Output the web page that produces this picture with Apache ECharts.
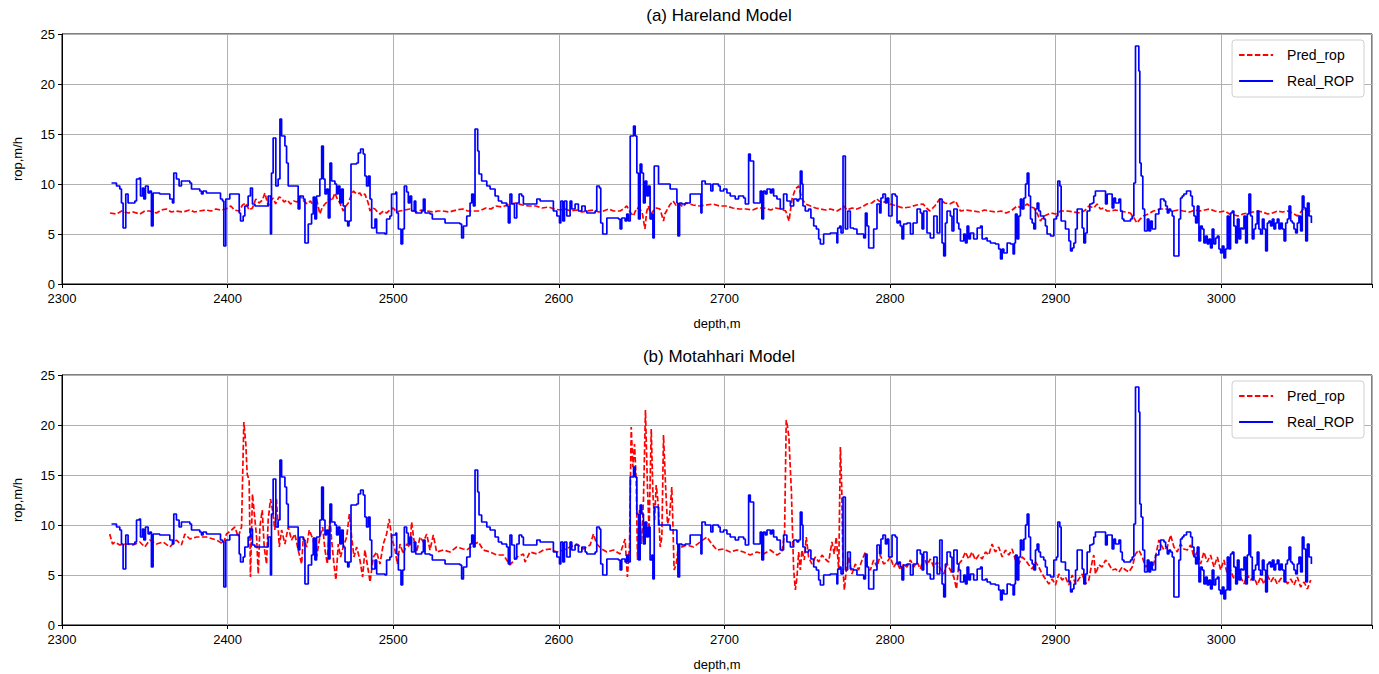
<!DOCTYPE html>
<html>
<head>
<meta charset="utf-8">
<script src="https://cdn.jsdelivr.net/npm/echarts@6/dist/echarts.min.js"></script>
<style>
  html, body { margin: 0; background: #fff; }
  #chart { width: 1379px; height: 674px; }
</style>
</head>
<body>
<div id="chart"></div>
<script>
// depth (m), rop (m/h)
const realRop = [
  [2329.9,10.1],[2332.9,9.8],[2334.9,9.5],[2335.9,8.1],[2336.9,5.6],[2338.5,9.0],[2339.9,8.1],[2344.0,8.3],
  [2345.0,10.5],[2346.6,10.6],[2347.4,8.8],[2348.6,9.6],[2349.4,8.5],[2350.4,9.8],[2352.0,9.1],[2353.0,9.3],
  [2354.0,5.8],[2355.0,9.1],[2359.0,9.0],[2365.1,8.5],[2366.7,8.1],[2367.5,11.1],[2369.1,10.5],[2370.7,9.8],
  [2372.1,10.3],[2377.2,10.1],[2378.2,9.5],[2383.2,9.3],[2384.2,9.0],[2385.2,9.3],[2387.2,9.1],[2394.3,9.1],
  [2395.7,8.5],[2396.9,8.3],[2397.7,3.8],[2398.9,8.5],[2401.3,9.0],[2407.0,7.1],[2407.8,6.3],[2409.4,6.8],
  [2410.4,7.8],[2412.4,8.8],[2413.8,9.6],[2415.0,8.0],[2416.5,7.8],[2424.5,8.8],[2425.9,5.0],[2426.5,11.1],
  [2427.5,14.6],[2429.1,9.8],[2430.5,10.5],[2431.6,16.5],[2432.6,14.8],[2434.6,13.8],[2435.6,12.1],[2436.6,9.8],
  [2442.6,7.5],[2443.6,8.8],[2445.7,8.5],[2446.7,4.1],[2448.7,6.0],[2450.7,7.0],
  [2451.7,8.7],[2452.7,6.5],[2453.7,8.8],[2455.7,10.5],[2456.8,13.8],[2457.8,10.5],[2458.8,9.0],[2459.8,9.5],
  [2460.8,6.6],[2461.8,12.1],[2462.8,10.3],[2464.8,10.0],[2465.8,9.0],[2466.8,9.8],[2467.8,8.1],[2468.8,9.5],
  [2469.8,7.8],[2470.9,6.3],[2472.5,5.8],[2473.3,6.3],[2474.5,12.0],[2477.9,12.1],[2478.9,13.1],[2480.3,13.5],
  [2481.9,13.0],[2482.9,10.8],[2483.9,9.8],[2485.0,10.8],[2486.0,8.5],[2487.0,5.6],[2489.0,6.5],[2490.0,5.1],
  [2495.0,5.0],[2496.0,6.5],[2498.0,6.8],[2499.0,9.0],[2501.5,9.2],[2502.1,7.1],[2503.1,5.5],[2504.7,4.0],
  [2505.7,5.5],[2506.7,9.8],[2508.1,9.2],[2509.1,8.1],[2510.1,8.8],[2511.1,7.3],[2512.7,8.3],[2513.6,7.1],
  [2517.2,7.3],[2518.2,8.5],[2519.2,7.1],[2522.2,7.0],[2523.6,6.5],[2531.3,6.1],[2540.3,6.0],[2541.3,4.6],
  [2542.4,5.8],[2544.4,6.8],[2546.4,8.1],[2547.4,9.0],[2548.4,7.8],[2549.4,15.5],[2551.0,13.3],[2551.8,11.0],
  [2553.4,10.3],[2556.5,9.8],[2558.5,9.5],[2561.5,8.8],[2563.5,8.3],[2565.5,8.1],[2568.5,7.8],[2569.5,6.1],
  [2570.5,9.0],[2571.6,8.0],[2573.2,6.6],[2574.6,8.1],[2576.0,9.0],[2577.6,8.8],
  [2578.6,8.0],[2586.7,8.5],[2588.7,8.3],[2596.7,7.3],[2598.8,6.8],[2600.4,6.1],[2601.2,8.3],[2602.4,6.3],
  [2603.4,8.3],[2604.8,6.8],[2606.8,8.3],[2607.8,7.5],[2609.8,8.0],[2611.8,7.3],[2613.9,7.8],[2615.9,7.3],
  [2616.9,7.1],[2621.9,7.3],[2622.9,9.8],[2624.5,9.6],[2625.3,6.1],[2626.5,5.0],[2629.0,6.6],[2636.0,6.5],
  [2637.0,5.5],[2638.0,6.6],[2640.0,6.3],[2641.0,7.0],[2642.0,6.3],[2643.1,14.8],[2645.1,15.8],[2646.1,14.8],
  [2647.1,11.1],[2648.1,6.5],[2649.1,12.0],[2650.1,11.1],[2651.1,8.1],[2652.1,10.3],[2653.1,8.8],[2654.1,9.8],
  [2655.1,6.5],[2656.2,7.0],[2656.8,4.6],[2657.6,11.8],[2660.2,10.0],[2667.2,9.5],[2671.3,8.1],[2671.9,4.8],
  [2672.9,8.1],[2674.3,8.0],[2676.3,8.1],[2679.3,9.0],[2685.8,7.1],[2686.4,10.3],[2688.4,10.0],[2691.8,9.3],
  [2693.0,10.0],[2696.4,9.8],[2697.4,9.3],[2699.5,9.5],[2701.5,9.1],[2703.5,8.8],
  [2704.5,8.8],[2706.5,8.5],[2708.5,8.8],[2711.6,8.6],[2712.6,8.0],[2714.6,13.0],[2715.6,12.3],[2717.6,8.1],
  [2721.6,9.3],[2722.6,6.5],[2723.6,9.3],[2724.7,9.0],[2725.7,9.5],[2727.7,9.1],[2728.7,9.5],[2729.7,8.8],
  [2731.7,8.5],[2733.7,7.5],[2735.7,9.0],[2737.7,8.3],[2739.8,7.8],[2741.8,8.5],[2743.8,8.3],[2744.8,8.5],
  [2745.8,11.3],[2746.8,10.0],[2747.4,7.8],[2748.8,7.3],[2750.8,7.5],[2752.2,6.6],[2753.9,5.8],[2755.5,5.5],
  [2756.9,4.5],[2757.9,4.0],[2759.9,5.0],[2763.9,5.1],[2767.9,4.1],[2768.4,5.6],[2769.6,5.8],[2770.4,5.1],
  [2771.6,12.8],[2773.0,5.5],[2774.4,7.3],[2776.0,5.6],[2778.0,5.5],[2780.0,5.0],[2784.1,4.6],[2785.1,7.1],
  [2786.1,5.8],[2787.1,3.6],[2790.1,5.5],[2792.1,8.0],[2793.7,7.1],[2794.5,8.6],[2795.7,9.0],[2797.2,8.1],
  [2798.2,8.6],[2799.2,6.8],[2801.2,9.0],[2803.2,8.8],[2804.2,6.1],[2805.2,6.3],[2806.2,5.8],[2807.2,4.5],
  [2808.2,6.0],[2810.2,6.1],[2812.3,5.0],[2813.9,6.1],[2816.3,7.5],[2818.3,7.1],[2819.3,5.5],[2820.3,7.3],
  [2822.3,5.1],[2824.3,4.6],[2826.4,6.8],[2828.4,5.1],[2830.0,8.5],[2831.4,4.1],[2832.4,2.8],[2833.4,6.1],
  [2834.4,7.3],[2836.4,6.8],[2837.4,5.3],[2838.5,7.5],[2840.5,6.1],[2841.5,5.5],[2842.5,4.3],[2844.5,5.0],
  [2845.5,4.1],[2846.5,5.8],[2847.5,4.5],[2848.5,5.1],[2850.5,4.5],[2852.6,5.6],[2854.6,5.8],[2855.6,4.5],
  [2857.6,4.6],[2858.6,4.3],[2860.6,4.1],[2863.6,4.0],[2865.6,3.5],[2866.7,2.5],[2867.7,3.5],[2868.7,3.1],
  [2870.7,4.1],[2872.7,4.0],[2874.3,3.0],[2875.1,4.1],[2875.7,7.0],[2876.7,4.5],[2877.7,6.8],[2878.7,8.5],
  [2879.7,7.5],[2880.8,8.6],[2881.8,10.0],[2882.8,11.1],[2883.8,8.8],[2884.8,6.5],[2885.8,6.1],[2886.8,5.5],
  [2887.8,7.5],[2888.8,8.1],[2889.8,7.3],[2890.8,6.8],[2892.8,6.5],[2893.8,5.8],[2894.8,5.0],[2896.9,4.8],
  [2898.9,6.5],[2900.5,6.8],[2901.3,10.3],[2902.5,9.8],[2903.3,6.3],[2905.9,5.5],[2908.0,4.3],[2909.0,3.3],
  [2910.0,3.6],[2911.0,4.1],[2912.0,5.5],[2913.0,7.5],[2916.0,5.6],[2917.0,4.1],[2918.0,5.1],[2919.0,7.3],
  [2920.6,8.0],[2922.0,8.1],[2923.0,8.8],[2924.0,9.3],[2930.1,8.0],[2931.1,9.0],[2934.1,7.6],[2935.1,8.6],
  [2936.1,8.1],[2938.2,8.5],[2939.2,7.3],[2940.2,6.5],[2941.2,6.3],[2945.2,6.5],[2946.2,6.8],[2947.2,10.1],
  [2948.2,23.8],[2950.2,21.3],[2950.8,12.1],[2951.6,10.8],[2952.6,7.5],[2953.7,5.3],[2955.3,6.5],[2956.3,5.3],
  [2957.3,6.3],[2958.3,5.5],[2960.3,7.0],[2962.3,7.5],[2963.3,8.5],[2965.4,8.3],[2966.4,7.8],[2967.4,7.1],
  [2968.4,7.5],[2969.4,7.3],[2970.4,6.8],[2971.4,2.8],[2974.4,6.5],[2975.4,8.6],[2976.4,8.8],[2977.4,9.0],
  [2979.0,9.3],[2981.5,8.8],[2982.5,7.8],[2983.5,6.8],[2984.5,6.1],[2985.5,7.8],[2986.5,4.3],[2987.5,5.8],
  [2988.5,5.5],[2989.5,4.1],[2990.5,4.8],[2991.5,4.0],[2992.5,4.5],[2993.5,3.6],[2994.5,5.5],[2995.5,4.0],
  [2996.6,4.6],[2997.6,4.8],[2998.6,3.5],[2999.6,3.1],[3000.6,3.8],[3001.6,2.6],[3002.6,3.5],[3003.6,6.8],
  [3004.6,3.5],[3005.6,7.1],[3006.6,7.3],[3007.6,5.8],[3008.7,4.1],[3009.7,6.5],[3010.7,4.5],[3011.7,5.6],
  [3012.7,5.5],[3013.7,6.8],[3014.7,4.1],[3015.7,7.0],[3016.7,9.0],[3017.7,6.8],[3018.7,4.5],[3019.7,5.5],
  [3020.7,6.0],[3021.7,7.3],[3022.7,5.5],[3023.7,5.0],[3024.8,6.5],[3025.8,5.5],[3026.8,3.3],[3027.8,6.1],
  [3028.8,6.3],[3029.8,5.8],[3030.8,6.5],[3031.8,5.5],[3032.8,6.1],[3033.8,6.5],[3034.8,5.5],[3035.8,6.1],
  [3036.8,5.5],[3037.9,4.3],[3038.9,6.1],[3039.9,6.5],[3040.9,7.8],[3041.9,6.3],[3042.9,6.1],[3043.9,5.5],
  [3044.9,5.1],[3045.9,6.1],[3046.9,6.8],[3047.9,5.3],[3048.9,8.8],[3049.9,7.6],[3051.0,4.3],[3052.0,8.1],
  [3053.0,6.8],[3054.4,6.1]
];

const harelandPred = [
  [2329,7.1],[2333,7.0],[2336,7.3],[2340,7.1],[2343,7.2],[2347,7.0],[2350,7.3],[2353,7.3],[2357,7.1],[2360,7.4],
  [2363,7.5],[2366,7.2],[2369,7.3],[2373,7.2],[2377,7.4],[2380,7.2],[2383,7.3],[2387,7.4],[2390,7.3],[2393,7.5],
  [2396,7.4],[2399,7.5],[2402,7.8],[2404,7.4],[2407,7.3],[2409,7.9],[2411,8.1],[2413,7.4],[2415,7.6],[2417,8.5],
  [2419,8.1],[2421,8.4],[2422.5,9.1],[2424.5,7.8],[2426,8.3],[2427.5,8.6],[2429,8.0],[2431,8.7],[2432.6,8.6],
  [2434,8.2],[2436,8.4],[2438,8.0],[2440,8.3],[2442,8.2],[2443.6,8.8],[2446,8.3],[2448,8.0],[2450,8.3],[2452,7.8],
  [2453.7,8.5],[2455.7,7.0],[2457,7.6],[2458.8,8.0],[2460,8.2],[2461.8,8.6],[2463,8.3],[2464.8,9.1],[2466,8.6],
  [2467.8,8.1],[2469.8,7.3],[2471,7.7],[2472.9,8.1],[2474,8.6],[2475.9,9.3],[2478,9.0],[2479.9,9.1],[2481,8.8],
  [2482.9,9.0],[2484.9,8.1],[2486,7.3],[2487.5,7.6],[2489,7.5],[2490.5,7.2],[2492,7.0],[2494,7.3],[2496,7.1],
  [2498,7.4],[2500,7.6],[2502,7.2],[2504,7.3],[2507,7.4],[2510,7.5],[2514,7.2],[2517,7.4],[2520,7.3],[2524,7.2],
  [2527,7.3],[2530,7.3],[2534,7.2],[2538,7.4],[2542,7.5],[2545,7.3],[2548,7.3],[2552,7.3],[2556,7.6],[2559,7.5],
  [2562,7.8],[2566,7.7],[2570,8.0],[2574,8.1],[2578,7.9],[2582,7.8],[2586,7.8],[2590,7.6],[2594,7.7],[2597,7.5],
  [2601,7.4],[2604,7.5],[2607,7.3],[2611,7.4],[2614,7.2],[2617,7.3],[2621,7.4],[2624,7.2],[2627,7.3],[2630,7.5],
  [2633,7.3],[2637,7.3],[2639,7.5],[2641,7.8],[2643,7.2],[2645,6.8],[2647,7.6],[2649,7.5],[2650.5,7.0],[2652,5.5],
  [2653,7.2],[2654,7.8],[2655.5,7.0],[2657,7.3],[2659,7.6],[2661,7.5],[2662,7.0],[2663.2,6.3],[2664,7.0],[2665,7.3],
  [2667,7.9],[2669,8.3],[2671,7.8],[2673,8.0],[2675,7.7],[2677,8.1],[2681,7.9],[2685,7.8],[2689,7.9],[2693,8.0],
  [2697,7.8],[2701,7.8],[2705,7.6],[2709,7.5],[2713,7.5],[2717,7.4],[2720,7.6],[2724,7.6],[2728,7.4],[2731,7.6],
  [2734,7.5],[2737,7.3],[2739,6.3],[2740.8,8.5],[2742.8,9.5],[2744.8,9.8],[2746.8,8.5],[2749,8.0],[2752,7.8],
  [2755,7.6],[2758,7.5],[2761,7.4],[2764,7.5],[2768,7.3],[2770,7.5],[2772,7.8],[2774,7.4],[2777,7.6],[2780,7.5],
  [2783,7.7],[2786,8.0],[2789,8.1],[2792,8.5],[2795,8.1],[2798,8.3],[2800,8.0],[2804,7.8],[2808,7.6],[2812,7.7],
  [2816,7.9],[2820,8.0],[2822,7.6],[2824,7.3],[2827,7.8],[2830,8.5],[2833,8.1],[2836,8.0],[2839.5,8.3],
  [2842.5,7.3],[2846,7.4],[2850,7.3],[2854,7.2],[2857,7.4],[2860,7.3],[2864,7.2],[2867,7.3],[2870,7.1],[2873,7.3],
  [2876.7,7.8],[2879,7.6],[2882.8,8.0],[2885,7.7],[2887,7.6],[2889,7.0],[2890.8,6.3],[2893,6.8],[2897,7.1],
  [2900,7.0],[2903,7.3],[2907,7.3],[2911,7.2],[2915,7.1],[2918,7.4],[2920,7.8],[2923,7.6],[2925,8.0],[2927,7.5],
  [2929,7.6],[2931,7.3],[2933,7.3],[2936,7.4],[2939,7.3],[2942,7.2],[2945,7.1],[2947,6.7],[2949,6.1],[2951,6.5],
  [2953,6.8],[2956,7.0],[2959,7.3],[2963,7.5],[2967,7.5],[2971,7.3],[2974,7.4],[2977,7.3],[2981,7.2],[2984,7.4],
  [2987,7.3],[2990,7.4],[2993,7.5],[2996,7.3],[2999,7.2],[3002,7.3],[3005,7.0],[3008,6.9],[3010,6.8],[3013,7.0],
  [3016,7.1],[3019,7.2],[3022,7.3],[3025,7.2],[3028,7.0],[3031,7.1],[3034,7.3],[3037,7.2],[3040,7.3],[3043,7.1],
  [3046,6.8],[3048,7.2],[3050,7.6],[3052,7.1],[3054,7.3]
];

const motahhariPred = [
  [2328.8,9.1],[2330.5,8.1],[2331.9,8.3],[2334.9,8.0],[2338.9,8.1],[2342.9,8.0],[2347.0,8.3],[2350.0,7.8],
  [2353.0,8.5],[2357.0,8.1],[2361.1,8.3],[2365.1,7.8],[2369.1,8.5],[2372.1,8.0],[2374.2,9.1],[2377.2,8.6],
  [2381.2,8.8],[2387.2,8.8],[2393.3,8.5],[2397.3,8.1],[2399.3,9.1],[2402.4,9.5],[2404.4,9.8],[2406.4,8.8],
  [2408.4,9.8],[2409.8,20.3],[2411.0,18.1],[2411.8,15.1],[2413.0,14.5],[2413.8,4.8],[2415.0,13.1],[2416.5,10.5],
  [2417.5,8.8],[2418.5,5.1],[2419.5,9.8],[2420.9,11.5],[2422.1,7.8],[2423.5,6.1],[2424.5,10.5],[2425.9,12.6],
  [2427.1,11.5],[2428.5,9.5],[2429.5,12.6],[2431.2,7.8],[2432.6,9.5],[2434.6,8.1],[2436.6,9.8],[2438.6,8.5],
  [2440.6,9.1],[2442.6,7.5],[2444.7,6.1],[2445.7,8.8],[2447.7,7.8],[2449.3,9.5],[2451.7,8.5],[2453.7,6.8],
  [2455.7,8.8],[2457.4,9.8],[2458.8,7.5],[2460.2,6.1],[2461.8,10.8],[2462.8,8.5],[2464.2,6.1],[2465.4,4.5],
  [2466.8,8.1],[2468.2,6.8],[2469.8,7.8],[2471.9,8.8],[2473.5,11.1],[2474.9,8.8],[2476.3,6.8],[2477.9,7.8],
  [2479.9,6.5],[2481.5,4.8],[2482.9,7.5],[2484.9,5.5],[2486.0,4.3],[2488.0,6.8],[2490.0,7.3],[2492.0,6.1],
  [2494.0,8.1],[2496.0,9.1],[2497.6,10.6],[2499.0,8.8],[2501.1,7.5],[2502.5,6.1],[2504.1,8.1],[2506.1,7.1],
  [2508.1,8.1],[2510.1,7.8],[2511.1,10.3],[2512.5,8.5],[2514.1,7.3],[2516.2,8.8],[2518.2,8.3],[2520.2,9.1],
  [2522.2,7.5],[2524.2,9.0],[2526.2,7.3],[2530.3,7.5],[2534.3,7.3],[2538.3,7.8],[2542.3,7.6],[2544.4,7.5],
  [2548.4,8.0],[2551.4,8.3],[2554.4,7.5],[2558.5,7.3],[2562.5,7.0],[2566.5,7.0],[2570.5,6.0],[2574.6,6.8],
  [2578.6,7.1],[2579.6,6.3],[2582.6,7.3],[2586.7,7.1],[2590.7,7.5],[2594.7,7.6],[2598.8,7.3],[2602.8,7.5],
  [2606.8,7.8],[2610.8,8.1],[2614.9,7.6],[2618.9,8.0],[2620.9,9.1],[2622.9,8.1],[2625.9,7.6],[2629.0,7.3],
  [2633.0,7.5],[2637.0,7.1],[2640.0,8.6],[2641.4,4.8],[2642.7,8.1],[2643.7,19.8],[2644.7,15.8],[2645.7,18.1],
  [2646.7,14.5],[2647.5,6.5],[2648.7,11.5],[2649.9,8.1],[2651.1,12.5],[2652.3,21.5],[2653.5,13.8],[2654.5,9.5],
  [2655.8,19.6],[2656.8,13.1],[2657.8,10.5],[2658.8,14.0],[2660.0,12.1],[2661.2,7.8],[2662.2,8.8],[2663.2,19.0],
  [2664.4,14.1],[2665.6,10.1],[2666.8,10.8],[2668.2,13.8],[2668.8,10.5],[2669.6,5.5],[2670.9,6.1],[2672.3,8.1],
  [2674.3,7.8],[2677.3,8.0],[2681.3,7.8],[2685.4,8.3],[2689.4,8.8],[2692.4,8.1],[2695.4,7.5],[2699.5,7.6],
  [2703.5,7.3],[2707.5,7.5],[2711.6,7.3],[2715.6,7.0],[2719.6,7.3],[2723.6,7.1],[2727.7,7.5],[2731.7,7.0],
  [2734.7,7.3],[2736.3,9.1],[2737.3,20.5],[2738.1,19.8],[2738.9,18.8],[2739.8,15.5],[2740.4,13.5],[2741.0,9.8],
  [2741.8,5.5],[2742.8,3.5],[2743.8,4.8],[2744.8,7.3],[2745.8,5.5],[2746.8,7.5],[2748.2,6.5],[2749.4,8.8],
  [2750.8,6.8],[2752.8,6.1],[2754.9,6.8],[2756.9,6.3],[2758.9,7.0],[2760.9,6.6],[2762.9,6.3],[2764.9,8.3],
  [2766.3,7.1],[2767.5,8.8],[2769.0,5.5],[2770.0,17.8],[2770.8,13.8],[2771.6,5.5],[2772.4,3.5],[2773.6,5.5],
  [2775.0,6.8],[2777.0,5.1],[2779.0,6.1],[2781.0,5.5],[2783.1,6.5],[2785.1,7.3],[2786.5,5.6],[2788.1,5.5],
  [2790.1,6.5],[2792.1,5.8],[2794.1,7.0],[2796.1,6.1],[2798.2,6.3],[2800.2,6.8],[2802.2,5.8],[2804.2,6.3],
  [2806.2,5.5],[2808.2,6.1],[2810.2,5.8],[2812.3,6.5],[2814.3,5.8],[2816.3,6.3],[2818.3,5.6],[2820.3,6.8],
  [2822.3,6.0],[2824.3,6.6],[2826.4,5.8],[2828.4,6.3],[2830.4,5.6],[2832.4,5.1],[2834.4,6.1],[2836.4,5.5],
  [2838.5,4.8],[2840.1,3.6],[2841.5,6.1],[2843.5,6.5],[2845.5,7.3],[2847.5,6.6],[2849.5,7.3],[2851.5,6.5],
  [2853.6,7.0],[2855.6,6.6],[2857.6,7.3],[2859.6,7.0],[2861.6,8.1],[2863.6,7.3],[2865.6,7.8],[2867.7,6.8],
  [2869.7,7.5],[2871.7,7.0],[2873.7,7.6],[2875.7,6.5],[2877.7,6.1],[2879.7,6.8],[2881.8,6.5],[2883.8,6.0],
  [2885.8,5.6],[2887.8,6.3],[2889.8,5.8],[2891.8,5.1],[2893.8,4.6],[2895.9,4.1],[2897.9,4.6],[2899.9,4.0],
  [2901.9,5.1],[2903.9,4.5],[2905.9,4.8],[2907.9,4.0],[2910.0,5.0],[2912.0,4.1],[2914.0,4.6],[2916.0,5.1],
  [2918.0,4.1],[2920.0,4.5],[2922.0,6.3],[2923.0,7.0],[2924.0,5.1],[2926.1,6.0],[2928.1,5.8],[2930.1,6.5],
  [2932.1,6.1],[2934.1,5.5],[2936.1,5.6],[2938.2,5.3],[2940.2,5.8],[2942.2,5.5],[2944.2,5.3],[2946.2,5.8],
  [2948.2,7.1],[2950.2,7.5],[2952.3,6.8],[2954.3,5.8],[2956.3,6.1],[2958.3,5.6],[2960.3,6.8],[2962.3,8.5],
  [2963.3,8.1],[2965.4,7.5],[2967.4,7.8],[2969.4,9.0],[2971.4,7.8],[2973.4,7.3],[2975.4,8.1],[2977.4,7.6],
  [2979.5,7.5],[2981.5,8.0],[2983.5,6.8],[2985.5,7.3],[2987.5,6.1],[2989.5,7.3],[2991.5,6.3],[2993.5,7.0],
  [2995.6,5.8],[2997.6,6.8],[2999.6,5.5],[3001.6,6.5],[3003.6,5.1],[3005.6,5.5],[3007.6,4.6],[3009.7,5.1],
  [3011.7,4.8],[3013.7,4.1],[3015.7,5.0],[3017.7,4.5],[3019.7,4.8],[3021.7,4.0],[3023.8,4.8],[3025.8,4.1],
  [3027.8,5.0],[3029.8,4.3],[3031.8,4.8],[3033.8,4.1],[3035.8,4.6],[3037.9,5.0],[3039.9,4.1],[3041.9,4.6],
  [3043.9,4.0],[3045.9,4.8],[3047.9,3.8],[3050.0,4.3],[3052.0,3.6],[3054.0,4.5]
];

const panelTitles = ['(a) Hareland Model', '(b) Motahhari Model'];
const panelPreds = [harelandPred, motahhariPred];
const gridTops = [34, 375];

const font = 'Liberation Sans, Arial, sans-serif';
const chart = echarts.init(document.getElementById('chart'), null, { renderer: 'svg' });

const option = {
  animation: false,
  backgroundColor: '#fff',
  title: panelTitles.map((t, i) => ({
    text: t,
    left: 714,
    top: gridTops[i] - 32,
    textAlign: 'center',
    textStyle: { fontFamily: font, fontSize: 17, fontWeight: 'normal', color: '#000' }
  })),
  legend: gridTops.map(top => ({
    orient: 'vertical',
    right: 15,
    top: top + 6,
    data: ['Pred_rop', 'Real_ROP'],
    itemWidth: 34,
    itemHeight: 14,
    itemGap: 12,
    padding: [8, 10, 9, 6],
    backgroundColor: '#fff',
    borderColor: '#d0d0d0',
    borderWidth: 1,
    borderRadius: 3,
    selectedMode: false,
    itemStyle: { opacity: 0 },
    textStyle: { fontFamily: font, fontSize: 14, color: '#000', padding: [0, 0, 0, 9] }
  })),
  grid: gridTops.map(top => ({
    left: 62, top, width: 1310, height: 250,
    show: true, borderColor: '#000', borderWidth: 1, containLabel: false
  })),
  xAxis: gridTops.map((_, i) => ({
    type: 'value', gridIndex: i,
    min: 2300, max: 3091, interval: 100,
    name: 'depth,m', nameLocation: 'middle', nameGap: 33,
    nameTextStyle: { fontFamily: font, fontSize: 13, color: '#000' },
    axisLine: { show: true, onZero: false, lineStyle: { color: '#000', width: 1 } },
    axisTick: { show: true, length: 4, lineStyle: { color: '#000' } },
    axisLabel: {
      fontFamily: font, fontSize: 13, color: '#000', margin: 8,
      formatter: v => (v % 100 === 0 ? String(v) : '')
    },
    splitLine: { show: true, lineStyle: { color: '#b0b0b0', width: 1 } }
  })),
  yAxis: gridTops.map((_, i) => ({
    type: 'value', gridIndex: i,
    min: 0, max: 25, interval: 5,
    name: 'rop,m/h', nameLocation: 'middle', nameGap: 38, nameRotate: 90,
    nameTextStyle: { fontFamily: font, fontSize: 13, color: '#000' },
    axisLine: { show: true, lineStyle: { color: '#000', width: 1 } },
    axisTick: { show: true, length: 4, lineStyle: { color: '#000' } },
    axisLabel: { fontFamily: font, fontSize: 13, color: '#000', margin: 7 },
    splitLine: { show: true, lineStyle: { color: '#b0b0b0', width: 1 } }
  })),
  series: []
};

panelPreds.forEach((pred, i) => {
  option.series.push({
    name: 'Pred_rop', type: 'line', xAxisIndex: i, yAxisIndex: i,
    data: pred, showSymbol: false, symbol: 'none',
    lineStyle: { color: '#ff0000', width: 1.7, type: [5.5, 2.4] },
    itemStyle: { color: '#ff0000' }
  });
  option.series.push({
    name: 'Real_ROP', type: 'line', xAxisIndex: i, yAxisIndex: i,
    data: realRop, step: 'end', showSymbol: false, symbol: 'none',
    lineStyle: { color: '#0000ff', width: 1.7 },
    itemStyle: { color: '#0000ff' }
  });
});

chart.setOption(option);
</script>
</body>
</html>
